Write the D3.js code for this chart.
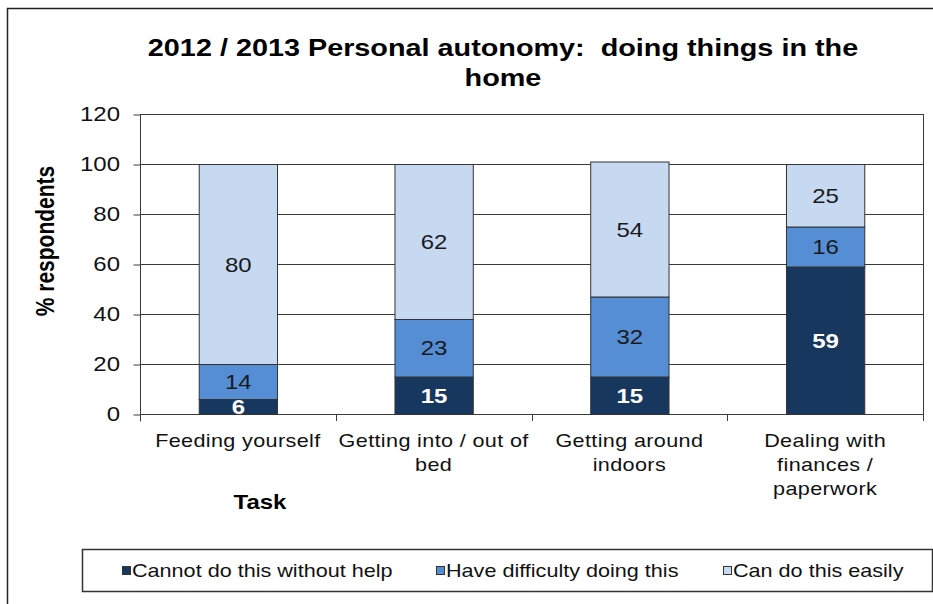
<!DOCTYPE html>
<html>
<head>
<meta charset="utf-8">
<script src="https://cdn.jsdelivr.net/npm/d3@7"></script>
<style>
  html, body { margin: 0; padding: 0; background: #fff; }
  svg { display: block; font-family: "Liberation Sans", Arial, sans-serif; }
</style>
</head>
<body>
<svg id="chart" width="933" height="604"></svg>
<script>
// ---- data ----
const titleLines = ["2012 / 2013 Personal autonomy:  doing things in the", "home"];
const categories = ["Feeding yourself", "Getting into / out of bed", "Getting around indoors", "Dealing with finances / paperwork"];
const categoryLines = [["Feeding yourself"], ["Getting into / out of", "bed"], ["Getting around", "indoors"], ["Dealing with", "finances /", "paperwork"]];
const seriesNames = ["Cannot do this without help", "Have difficulty doing this", "Can do this easily"];
const cannotValues = [6, 15, 15, 59];
const difficultyValues = [14, 23, 32, 16];
const easilyValues = [80, 62, 54, 25];
const yTicks = [0, 20, 40, 60, 80, 100, 120];
const yAxisTitle = "% respondents";
const xAxisTitle = "Task";

// ---- styles ----
const colors = ["#17375e", "#558ed5", "#c6d9f1"];
const labelColors = ["#ffffff", "#1a1a1a", "#1a1a1a"];
const labelWeights = ["bold", "normal", "normal"];
const SX = 1.2; // horizontal stretch of the reference's text
const lineColor = "#3a3a3a";

const svg = d3.select("#chart");

function txt(parent, x, y, s, o) {
  o = o || {};
  return parent.append("text")
    .attr("transform", `translate(${x},${y}) scale(${SX},1)`)
    .attr("text-anchor", o.anchor || "middle")
    .attr("font-size", o.size || 20)
    .attr("font-weight", o.weight || "normal")
    .attr("fill", o.fill || "#000")
    .attr("letter-spacing", o.ls || 0)
    .text(s);
}

// outer frame
svg.append("rect").attr("x", 7.5).attr("y", 8.5).attr("width", 940).attr("height", 620)
  .attr("fill", "none").attr("stroke", "#222").attr("stroke-width", 1.5);

// title
titleLines.forEach((t, i) => txt(svg, 503, 56 + i * 30, t, { size: 24, weight: "bold" }).style("white-space", "pre"));

// plot geometry
const plotL = 140, plotR = 923, plotT = 114, plotB = 414;
const x = d3.scaleBand().domain(categories).range([plotL, plotR]).paddingInner(0.6).paddingOuter(0.3);
const y = d3.scaleLinear().domain([0, 120]).range([plotB, plotT]);

// gridlines
svg.append("g").selectAll("line").data(yTicks.filter(d => d > 0)).join("line")
  .attr("x1", plotL).attr("x2", plotR)
  .attr("y1", d => Math.round(y(d)) + 0.5).attr("y2", d => Math.round(y(d)) + 0.5)
  .attr("stroke", lineColor).attr("stroke-width", 1);
// right border
svg.append("line").attr("x1", plotR + 0.5).attr("x2", plotR + 0.5).attr("y1", plotT).attr("y2", plotB + 7)
  .attr("stroke", lineColor).attr("stroke-width", 1);

// y axis
const yAxis = d3.axisLeft(y).tickValues(yTicks).tickSize(7).tickPadding(6).tickFormat(d3.format("d"));
const gy = svg.append("g").attr("transform", `translate(${plotL + 0.5},0.5)`).call(yAxis);
gy.select(".domain").attr("stroke", lineColor).attr("d", `M0,${plotT}V${plotB + 7}`);
gy.selectAll(".tick line").attr("stroke", lineColor);
gy.selectAll(".tick text").remove();
yTicks.forEach(v => txt(svg, 120, y(v) + 7, String(v), { size: 20, anchor: "end", fill: "#111" }));

// x axis baseline + boundary ticks
svg.append("line").attr("x1", plotL).attr("x2", plotR + 1).attr("y1", plotB + 0.5).attr("y2", plotB + 0.5)
  .attr("stroke", lineColor).attr("stroke-width", 1);
const step = x.step();
const bounds = d3.range(categories.length + 1).map(i => plotL + i * step);
svg.append("g").selectAll("line").data(bounds).join("line")
  .attr("x1", d => Math.round(d) + 0.5).attr("x2", d => Math.round(d) + 0.5)
  .attr("y1", plotB).attr("y2", plotB + 7)
  .attr("stroke", lineColor);

// stacked bars
const rows = categories.map((c, i) => ({ cat: c, s0: cannotValues[i], s1: difficultyValues[i], s2: easilyValues[i] }));
const stack = d3.stack().keys(["s0", "s1", "s2"])(rows);
stack.forEach((layer, li) => {
  const g = svg.append("g");
  g.selectAll("rect").data(layer).join("rect")
    .attr("x", d => x(d.data.cat) + 0.5)
    .attr("y", d => y(d[1]) + 0.5)
    .attr("width", x.bandwidth())
    .attr("height", d => y(d[0]) - y(d[1]))
    .attr("fill", colors[li])
    .attr("stroke", "#333").attr("stroke-width", 1);
  layer.forEach(d => {
    const v = d[1] - d[0];
    txt(g, x(d.data.cat) + x.bandwidth() / 2 + 0.5, (y(d[0]) + y(d[1])) / 2 + 7.5, String(v),
      { size: 20, weight: labelWeights[li], fill: labelColors[li] });
  });
});

// category labels
categoryLines.forEach((lines, i) => {
  const cx = x(categories[i]) + x.bandwidth() / 2;
  lines.forEach((ln, j) => txt(svg, cx, 447 + j * 24, ln, { size: 18, fill: "#111", ls: 0.3 }));
});

// axis titles
txt(svg, 260, 509, xAxisTitle, { size: 20, weight: "bold" });
svg.append("text")
  .attr("transform", `translate(54,241) rotate(-90) scale(1,${SX})`)
  .attr("text-anchor", "middle").attr("font-size", 21).attr("font-weight", "bold")
  .text(yAxisTitle);

// legend
svg.append("rect").attr("x", 82.5).attr("y", 549.5).attr("width", 850).attr("height", 42)
  .attr("fill", "#fff").attr("stroke", "#333").attr("stroke-width", 1.5);
const legendX = [122, 436, 723];
seriesNames.forEach((n, i) => {
  svg.append("rect").attr("x", legendX[i] + 0.5).attr("y", 566.5).attr("width", 8).attr("height", 8)
    .attr("fill", colors[i]).attr("stroke", "#333").attr("stroke-width", 1);
  txt(svg, legendX[i] + 10, 577, n, { size: 18, anchor: "start", fill: "#111" });
});
</script>
</body>
</html>
